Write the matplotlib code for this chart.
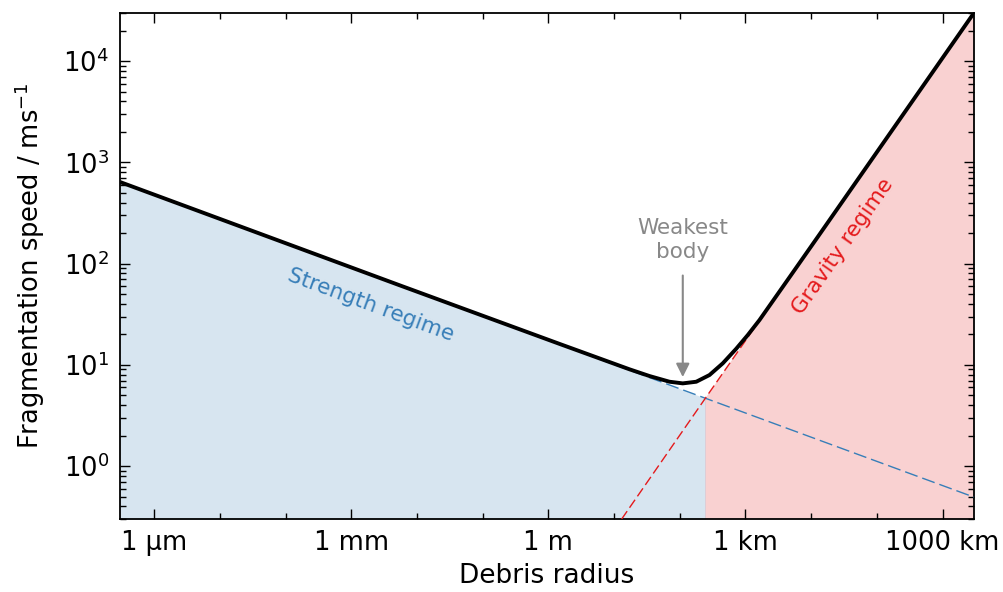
import matplotlib
matplotlib.use("Agg")
import matplotlib.pyplot as plt
import matplotlib.ticker

BLUE = "#377eb8"
RED = "#e41a1c"
GREY = "#888888"

# Debris radius (m) and fragmentation speed (m/s)
STRENGTH_R = [3.0e-7, 245.0, 3.0e6]
STRENGTH_V = [640.0, 4.68, 0.494]
GRAVITY_R = [13.0, 245.0, 3.0e6]
GRAVITY_V = [0.299, 4.68, 29900.0]
TOTAL_R = [3.0e-7, 5.42e-3, 1.476, 17.1, 34.6, 69.7, 111.0, 178.0, 283.0,
           451.0, 721.0, 1084.0, 1633.0, 5190.0, 13370.0, 3.0e6]
TOTAL_V = [640.0, 61.1, 16.1, 9.04, 7.75, 6.81, 6.56, 6.81, 7.93,
           10.35, 14.4, 19.7, 27.7, 80.7, 193.9, 29900.0]
WEAKEST = (111.0, 7.57)

XTICKS = [1e-6, 1e-3, 1.0, 1e3, 1e6]
XLABELS = ["1 µm", "1 mm", "1 m", "1 km", "1000 km"]

figure = plt.figure(figsize=(10.04, 5.92), dpi=100)
axes = figure.add_axes([0.1195, 0.1233, 0.8505, 0.855])
axes.set_xscale("log")
axes.set_yscale("log")
axes.set_xlim(3e-7, 3e6)
axes.set_ylim(0.3, 3e4)

# Shaded regimes below each limiting curve
axes.fill_between(STRENGTH_R[:2], STRENGTH_V[:2], 1e-3, color=BLUE, alpha=0.2, lw=0)
axes.fill_between(GRAVITY_R[1:], GRAVITY_V[1:], 1e-3, color=RED, alpha=0.2, lw=0)

axes.plot(STRENGTH_R, STRENGTH_V, color=BLUE, lw=1.0, dashes=(9.5, 3.6), zorder=3)
axes.plot(GRAVITY_R, GRAVITY_V, color=RED, lw=1.0, dashes=(7, 3), zorder=3)
axes.plot(TOTAL_R, TOTAL_V, color="black", lw=2.8, zorder=4,
          solid_capstyle="butt", solid_joinstyle="round")

axes.text(2.0e-3, 39.0, "Strength regime", color=BLUE, fontsize=15.5,
          rotation=-20.3, ha="center", va="center")
axes.text(3.0e4, 149.0, "Gravity regime", color=RED, fontsize=15.5,
          rotation=55, ha="center", va="center")
axes.annotate("Weakest\nbody", xy=WEAKEST, xytext=(111.0, 171.0),
              ha="center", va="center", fontsize=15.5, color=GREY,
              arrowprops=dict(arrowstyle="-|>", color=GREY, lw=1.5,
                              mutation_scale=20, shrinkA=8, shrinkB=0))

axes.set_xticks(XTICKS)
axes.set_xticklabels(XLABELS)
axes.xaxis.set_minor_locator(matplotlib.ticker.LogLocator(base=10, subs=(1.0,), numticks=30))
axes.xaxis.set_minor_formatter(matplotlib.ticker.NullFormatter())
axes.yaxis.set_major_locator(matplotlib.ticker.LogLocator(base=10, numticks=20))
axes.yaxis.set_minor_locator(matplotlib.ticker.LogLocator(base=10, subs=range(2, 10), numticks=20))
axes.tick_params(which="both", direction="in", top=True, right=True, labelsize=18.5, width=1.0)
axes.tick_params(which="major", length=7.5, pad=8)
axes.tick_params(which="minor", length=4)
for spine in axes.spines.values():
    spine.set_linewidth(1.3)

axes.set_xlabel("Debris radius", fontsize=19, labelpad=5)
axes.set_ylabel("Fragmentation speed / ms$^{-1}$", fontsize=18.5, labelpad=12)

figure.savefig("out.png", dpi=100)
